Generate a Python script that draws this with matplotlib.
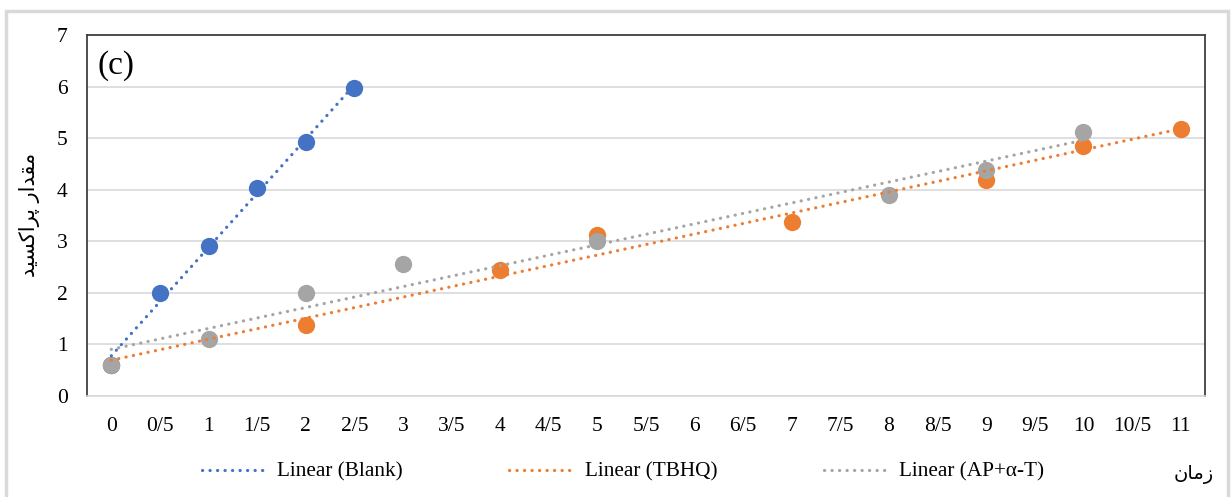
import numpy as np
import matplotlib
matplotlib.use("Agg")
import matplotlib.pyplot as plt
from matplotlib.patches import Rectangle
from matplotlib.lines import Line2D

# x categories (Persian decimal notation, 0/5 = 0.5)
categories = ["0", "0/5", "1", "1/5", "2", "2/5", "3", "3/5", "4", "4/5", "5", "5/5",
              "6", "6/5", "7", "7/5", "8", "8/5", "9", "9/5", "10", "10/5", "11"]

blank_x = ["0", "0/5", "1", "1/5", "2", "2/5"]
blank_y = [0.60, 2.00, 2.90, 4.03, 4.93, 5.97]

tbhq_x = ["0", "2", "4", "5", "7", "9", "10", "11"]
tbhq_y = [0.60, 1.38, 2.45, 3.12, 3.37, 4.18, 4.85, 5.18]

ap_x = ["0", "1", "2", "3", "5", "8", "9", "10"]
ap_y = [0.60, 1.10, 2.00, 2.55, 3.00, 3.90, 4.38, 5.12]

series = [
    ("Linear (Blank)", blank_x, blank_y, "#4472C4"),
    ("Linear (TBHQ)", tbhq_x, tbhq_y, "#ED7D31"),
    ("Linear (AP+\u03b1-T)", ap_x, ap_y, "#A5A5A5"),
]

# Persian labels written as presentation forms in visual order
ylabel_fa = "\ufeaa\ufbff\ufeb4\ufb90\ufe8d\ufeae\ufb58 \ufead\ufe8d\ufeaa\ufed8\ufee3"  # مقدار پراکسید
xlabel_fa = "\ufee5\ufe8e\ufee3\ufeaf"  # زمان

serif = "Liberation Serif"
dots = (0, (0.05, 2.3))

fig = plt.figure(figsize=(12.31, 4.97), dpi=100)
fig.patches.append(Rectangle((6 / 1231, -0.05), 1222 / 1231, 1 - 11 / 497 + 0.05,
                             transform=fig.transFigure, fill=False,
                             edgecolor="#D9D9D9", linewidth=2.5))

ax = fig.add_axes([87 / 1231, 1 - 396 / 497, (1205 - 87) / 1231, (396 - 35) / 497])

idx = {c: i for i, c in enumerate(categories)}
handles = []
for name, xs, ys, color in series:
    xi = np.array([idx[c] for c in xs], dtype=float)
    yv = np.array(ys)
    ax.scatter(xi, yv, s=155, color=color, zorder=3, linewidths=0)
    # linear trendline over the series' own points
    k, b = np.polyfit(xi, yv, 1)
    xx = np.array([xi.min(), xi.max()])
    ax.plot(xx, k * xx + b, color=color, linestyle=dots, linewidth=2.3,
            dash_capstyle="round", zorder=5)
    handles.append(Line2D([], [], color=color, linestyle=dots, linewidth=2.3,
                          dash_capstyle="round", label=name))

ax.set_xlim(-0.5, len(categories) - 0.5)
ax.set_ylim(0, 7)
ax.set_xticks(range(len(categories)))
ax.set_xticklabels(categories)
ax.set_yticks(range(0, 8))
ax.tick_params(length=0, labelsize=15.5)
ax.tick_params(axis="x", pad=15)
ax.tick_params(axis="y", pad=14)
for lab in ax.get_xticklabels() + ax.get_yticklabels():
    lab.set_fontfamily(serif)

ax.grid(axis="y", color="#D9D9D9", linewidth=1.2)
ax.set_axisbelow(True)
for s in ["left", "top", "right"]:
    ax.spines[s].set_color("#404040")
    ax.spines[s].set_linewidth(1.3)
ax.spines["bottom"].set_color("#D9D9D9")
ax.spines["bottom"].set_linewidth(1.2)

ax.text(0.009, 0.915, "(c)", transform=ax.transAxes, fontsize=24,
        fontfamily=serif, va="center", ha="left")

fig.text(29 / 1231, 1 - 215 / 497, ylabel_fa, rotation=90, fontsize=15,
         fontfamily="DejaVu Sans", ha="center", va="center")
fig.text(1194 / 1231, 1 - 474 / 497, xlabel_fa, fontsize=14,
         fontfamily="DejaVu Sans", ha="center", va="center")

fig.legend(handles=handles, loc="center", bbox_to_anchor=(623 / 1231, 1 - 472 / 497),
           ncol=3, frameon=False, prop={"family": serif, "size": 15.3},
           handlelength=3.05, columnspacing=5.0, handletextpad=0.5)

fig.savefig("out.png", dpi=100)
